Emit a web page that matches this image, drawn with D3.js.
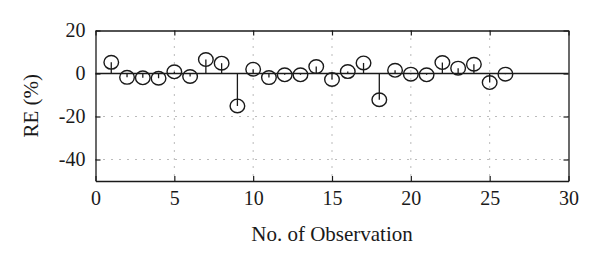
<!DOCTYPE html>
<html><head><meta charset="utf-8">
<script src="https://cdn.jsdelivr.net/npm/d3@7"></script>
<style>body{margin:0;background:#fff}svg{display:block}svg text{font-family:'Liberation Serif','DejaVu Serif',serif}</style>
</head><body>
<svg id="c" width="600" height="263"></svg>
<script>
const observations = d3.range(1, 27);
const reValues = [5.2, -1.8, -2.0, -2.2, 0.8, -1.4, 6.5, 4.8, -15.1, 2.0, -1.9, -0.6, -0.6, 3.2, -2.8, 0.9, 4.9, -12.2, 1.5, -0.3, -0.6, 5.1, 2.5, 4.3, -4.2, -0.3];
const xTicks = [0, 5, 10, 15, 20, 25, 30];
const yTicks = [20, 0, -20, -40];
const xTitle = "No. of Observation";
const yTitle = "RE (%)";

const svg = d3.select("#c");
const m = {l: 95.5, r: 568.5, t: 30.5, b: 181};
const x = d3.scaleLinear().domain([0, 30]).range([m.l, m.r]);
const y = d3.scaleLinear().domain([-50, 20]).range([m.b, m.t]);
const ink = "#1a1a1a";
const font = "'Liberation Serif','DejaVu Serif',serif";

// dotted grid
const g = svg.append("g");
g.selectAll("line.gx").data(xTicks.filter(d => d > 0 && d < 30)).join("line")
  .attr("x1", d => x(d)).attr("x2", d => x(d)).attr("y1", m.t).attr("y2", m.b)
  .attr("stroke", "#777").attr("stroke-width", 1).attr("stroke-dasharray", "1,7");
g.selectAll("line.gy").data(yTicks.filter(d => d < 20 && d !== 0)).join("line")
  .attr("x1", m.l).attr("x2", m.r).attr("y1", d => y(d)).attr("y2", d => y(d))
  .attr("stroke", "#777").attr("stroke-width", 1).attr("stroke-dasharray", "1,7");

// axes with inward ticks
const xb = svg.append("g").attr("transform", `translate(0,${m.b})`)
  .call(d3.axisBottom(x).tickValues(xTicks).tickSizeInner(-5).tickSizeOuter(0).tickPadding(10));
const xt = svg.append("g").attr("transform", `translate(0,${m.t})`)
  .call(d3.axisTop(x).tickValues(xTicks).tickSizeInner(-5).tickSizeOuter(0).tickFormat(""));
const yl = svg.append("g").attr("transform", `translate(${m.l},0)`)
  .call(d3.axisLeft(y).tickValues(yTicks).tickSizeInner(-5).tickSizeOuter(0).tickPadding(10).tickFormat(d => d < 0 ? "-" + Math.abs(d) : d));
const yr = svg.append("g").attr("transform", `translate(${m.r},0)`)
  .call(d3.axisRight(y).tickValues(yTicks).tickSizeInner(-5).tickSizeOuter(0).tickFormat(""));
[xb, xt, yl, yr].forEach(a => {
  a.attr("font-family", null).attr("font-size", null);
  a.selectAll("path").attr("stroke", ink).attr("stroke-width", 1.3);
  a.selectAll("line").attr("stroke", ink).attr("stroke-width", 1.2);
  a.selectAll("text").attr("fill", ink).style("font-family", font).style("font-size", "20px");
});
xb.selectAll("text").attr("dy", "0.71em");

// zero line
svg.append("line").attr("x1", m.l).attr("x2", m.r).attr("y1", y(0)).attr("y2", y(0))
  .attr("stroke", ink).attr("stroke-width", 1.4);

// stems
svg.append("g").selectAll("line").data(observations).join("line")
  .attr("x1", d => x(d)).attr("x2", d => x(d))
  .attr("y1", y(0)).attr("y2", (d, i) => y(reValues[i]))
  .attr("stroke", ink).attr("stroke-width", 1.3);
// markers
svg.append("g").selectAll("ellipse").data(observations).join("ellipse")
  .attr("cx", d => x(d)).attr("cy", (d, i) => y(reValues[i]))
  .attr("rx", 7.3).attr("ry", 6.8)
  .attr("fill", "none").attr("stroke", ink).attr("stroke-width", 1.4);

// titles
svg.append("text").attr("x", (m.l + m.r) / 2).attr("y", 241)
  .attr("text-anchor", "middle").style("font-size", "21px").attr("fill", ink)
  .text(xTitle);
svg.append("text").attr("transform", `translate(38,${(m.t + m.b) / 2}) rotate(-90)`)
  .attr("text-anchor", "middle").style("font-size", "21px").attr("fill", ink)
  .text(yTitle);
</script>
</body></html>
